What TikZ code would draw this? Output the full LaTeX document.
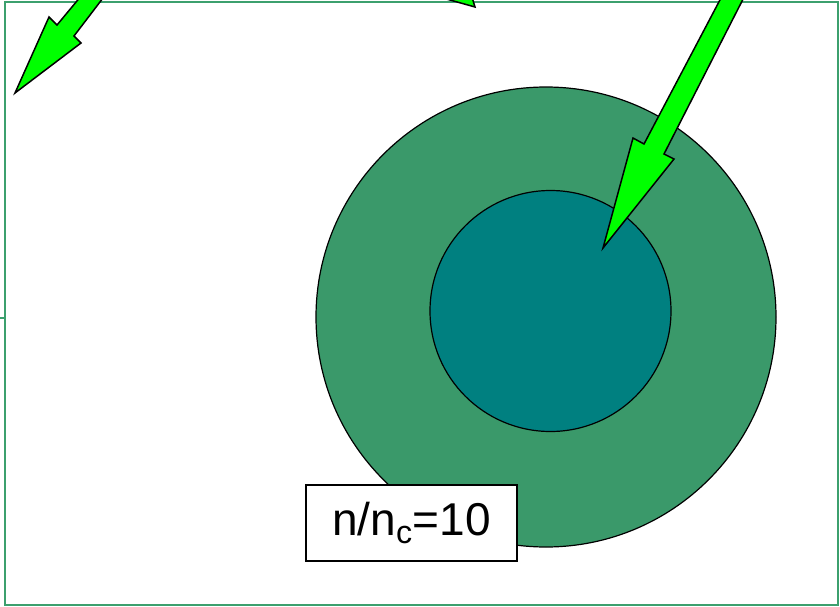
\documentclass[tikz,border=0pt]{standalone}
\usepackage{fontspec}
\setmainfont{Liberation Sans}
\definecolor{framegreen}{RGB}{60,160,110}
\definecolor{outergreen}{RGB}{58,153,106}
\definecolor{innerteal}{RGB}{0,128,128}
\definecolor{arrowgreen}{RGB}{0,255,0}
\tikzset{
  greenarrow/.style={draw=black,fill=arrowgreen,line width=1.5pt,line join=miter},
  disc/.style={circle,draw=black,line width=1.2pt,inner sep=0pt}
}
\begin{document}
\begin{tikzpicture}[x=1pt,y=-1pt]
  \useasboundingbox (0,0) rectangle (840,607);
  \clip (0,0) rectangle (840,607);

  % frame
  \draw[draw=framegreen,line width=2pt] (5,2) rectangle (838,605);
  \draw[draw=framegreen,line width=2pt] (0,318) -- (5,318);

  % density
  \node[disc,fill=outergreen,minimum size=460pt] (outer) at (546,317) {};
  \node[disc,fill=innerteal,minimum size=241pt] (inner) at (550.5,311) {};

  % incoming arrows
  \draw[greenarrow] (15,93) -- (49,17) -- (57,25) -- (111,-40) -- (132,-40) -- (74,36) -- (81,43) -- cycle;
  \draw[greenarrow] (475,7) -- (400,-14) -- (430,-20) -- (440,-60) -- (460,-60) -- (455,-30) -- (462,-35) -- cycle;
  \draw[greenarrow] (603,248) -- (633,138) -- (644,144) -- (741,-40) -- (763,-40) -- (664,154) -- (674,159) -- cycle;

  \node[draw=black,fill=white,line width=1.2pt,minimum width=211pt,minimum height=76pt,inner sep=0pt] (ratio) at (411.5,523) {\fontsize{46}{50}\selectfont n/n\textsubscript{c}=10};

\end{tikzpicture}
\end{document}
